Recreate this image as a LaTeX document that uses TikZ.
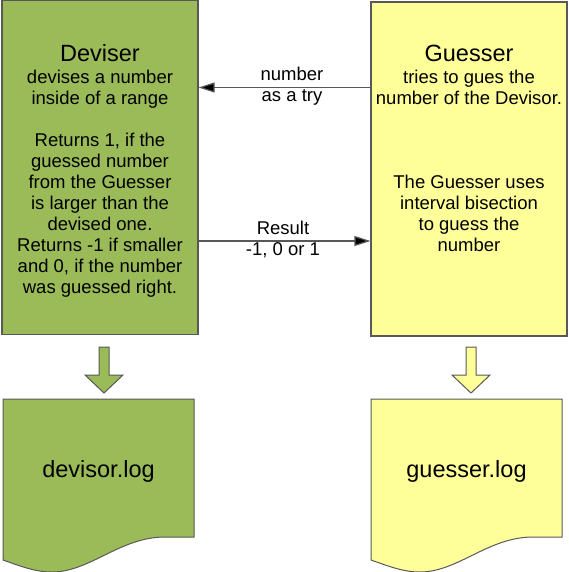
\documentclass[tikz,border=0pt]{standalone}
\usepackage{fontspec}
\setmainfont{Liberation Sans}
\usetikzlibrary{arrows.meta, positioning}

\definecolor{devgreen}{RGB}{155,187,89}
\definecolor{guessyellow}{RGB}{255,255,153}
\definecolor{edgegray}{RGB}{88,88,88}

\begin{document}
\begin{tikzpicture}[x=1pt, y=-1pt,
    box/.style={draw=edgegray, line width=1.2pt, minimum width=196pt, minimum height=334pt, inner sep=0pt},
    body/.style={align=center, font=\fontsize{18.5}{21}\selectfont, inner sep=0pt},
    big/.style={font=\fontsize{23.5}{26}\selectfont, inner sep=0pt},
    link/.style={draw=edgegray, line width=1.2pt, -{Triangle[length=16pt, width=10pt, fill=black]}},
    outline/.style={draw=edgegray, line width=1pt}]
\useasboundingbox (0,0) rectangle (569,572);

% the two players
\node[box, fill=devgreen] (deviser) at (100,167.5) {};
\node[box, fill=guessyellow] (guesser) at (469,169) {};

\node[body, anchor=north] (devisertext) at (100,44.5) {{\fontsize{23.5}{26}\selectfont Deviser}\\[1pt]
    devises a number\\ inside of a range\\[21pt]
    Returns 1, if the\\ guessed number\\ from the Guesser\\ is larger than the\\ devised one.\\
    Returns -1 if smaller\\ and 0, if the number\\ was guessed right.};
\node[body, anchor=north] (guessertext) at (469,44.5) {{\fontsize{23.5}{26}\selectfont Guesser}\\[1pt]
    tries to gues the\\ number of the Devisor.\\[63pt]
    The Guesser uses\\ interval bisection\\ to guess the\\ number};

% messages between them
\draw[link] (guesser.west |- 0,87.5) -- (deviser.east |- 0,87.5);
\node[body, anchor=north] (trylabel) at (292,66.5) {number\\ as a try};
\draw[link] (deviser.east |- 0,241) -- (guesser.west |- 0,241);
\node[body, anchor=north] (resultlabel) at (283,220.5) {Result\\ -1, 0 or 1};

% block arrows
\draw[outline, fill=devgreen] (99,347) -- (109,347) -- (109,375) -- (123,375) -- (104,393) -- (85,375) -- (99,375) -- cycle;
\draw[outline, fill=guessyellow] (466,347) -- (476,347) -- (476,375) -- (490,375) -- (471,393) -- (452,375) -- (466,375) -- cycle;

% log files
\draw[outline, fill=devgreen] (3,399) -- (194,399) -- (194,537) -- (165,537) .. controls (120,537) and (90,572) .. (52,572) .. controls (35,572) and (20,566) .. (3,560) -- cycle;
\node[big, anchor=base] (devisorlog) at (98.5,477.5) {devisor.log};
\draw[outline, fill=guessyellow] (371,399) -- (562,399) -- (562,537) -- (533,537) .. controls (488,537) and (458,572) .. (420,572) .. controls (403,572) and (388,566) .. (371,560) -- cycle;
\node[big, anchor=base] (guesserlog) at (466.5,477.5) {guesser.log};

\end{tikzpicture}
\end{document}
